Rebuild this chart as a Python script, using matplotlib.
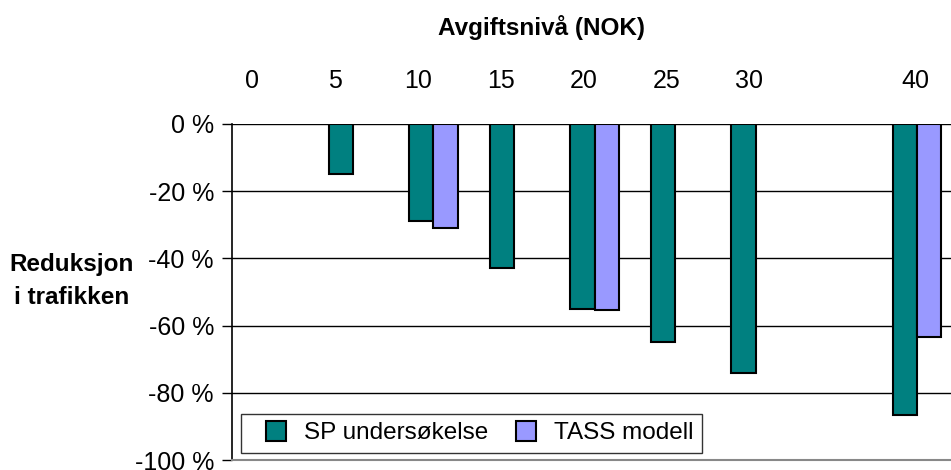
import numpy as np
import matplotlib
matplotlib.use("Agg")
import matplotlib.pyplot as plt
from matplotlib.lines import Line2D

plt.rcParams['font.family'] = ['Liberation Sans Narrow', 'Liberation Sans', 'DejaVu Sans']

categories = ['0', '5', '10', '15', '20', '25', '30', '', '40']
sp_values = [np.nan, -15, -29, -43, -55, -65, -74, np.nan, -86.6]
tass_values = [np.nan, np.nan, -31, np.nan, -55.5, np.nan, np.nan, np.nan, -63.5]
series_names = ['SP undersøkelse', 'TASS modell']
y_ticks = [0, -20, -40, -60, -80, -100]
title = 'Avgiftsnivå (NOK)'
ylabel = 'Reduksjon\ni trafikken'

sp_color = '#008080'
tass_color = '#9999FF'

W, H = 951, 470
fig = plt.figure(figsize=(W / 100, H / 100), dpi=100)
ax = fig.add_axes([232 / W, 10 / H, 725 / W, 336 / H])

x = np.arange(len(categories))
bw = 0.3
ax.bar(x - bw / 2, sp_values, width=bw, color=sp_color, edgecolor='black', linewidth=1.5, zorder=3)
ax.bar(x + bw / 2, tass_values, width=bw, color=tass_color, edgecolor='black', linewidth=1.5, zorder=3)

ax.set_xlim(-0.5, len(categories) - 0.5)
ax.set_ylim(-100, 0)
ax.set_yticks(y_ticks)
ax.set_yticklabels([f'{v} %' for v in y_ticks], fontsize=18)
ax.tick_params(axis='y', length=7, width=1, direction='out', pad=6)
ax.set_xticks([])
for yv in y_ticks[:-1]:
    ax.axhline(yv, color='black', linewidth=1, zorder=1)

ax.spines['left'].set_color('black')
ax.spines['left'].set_linewidth(1.2)
ax.spines['bottom'].set_color('#888888')
ax.spines['bottom'].set_linewidth(1.5)
ax.spines['top'].set_visible(False)
ax.spines['right'].set_visible(False)

ax2 = ax.twiny()
ax2.set_xlim(-0.241, 8.504)
ax2.set_xticks(x)
ax2.set_xticklabels(categories, fontsize=18)
ax2.tick_params(axis='x', length=0, pad=22)
for s in ax2.spines.values():
    s.set_visible(False)

handles = [Line2D([], [], linestyle='none', marker='s', markersize=14, markerfacecolor=sp_color,
                  markeredgecolor='black', markeredgewidth=1.5),
           Line2D([], [], linestyle='none', marker='s', markersize=14, markerfacecolor=tass_color,
                  markeredgecolor='black', markeredgewidth=1.5)]
leg = ax.legend(handles, series_names, loc='lower left', bbox_to_anchor=(0.0124, 0.021),
                ncol=2, fontsize=17.5, frameon=True, fancybox=False, edgecolor='black',
                handlelength=2.2, handletextpad=0.05, columnspacing=0.45,
                borderpad=0.35, borderaxespad=0)
leg.get_frame().set_linewidth(1)
leg.set_zorder(5)

fig.text(542 / W, 1 - 28 / H, title, fontsize=17.5, fontweight='bold', ha='center', va='center')
fig.text(72 / W, 1 - 281 / H, ylabel, fontsize=17.5, fontweight='bold', ha='center', va='center',
         linespacing=1.6)

fig.savefig('out.png', dpi=100)
